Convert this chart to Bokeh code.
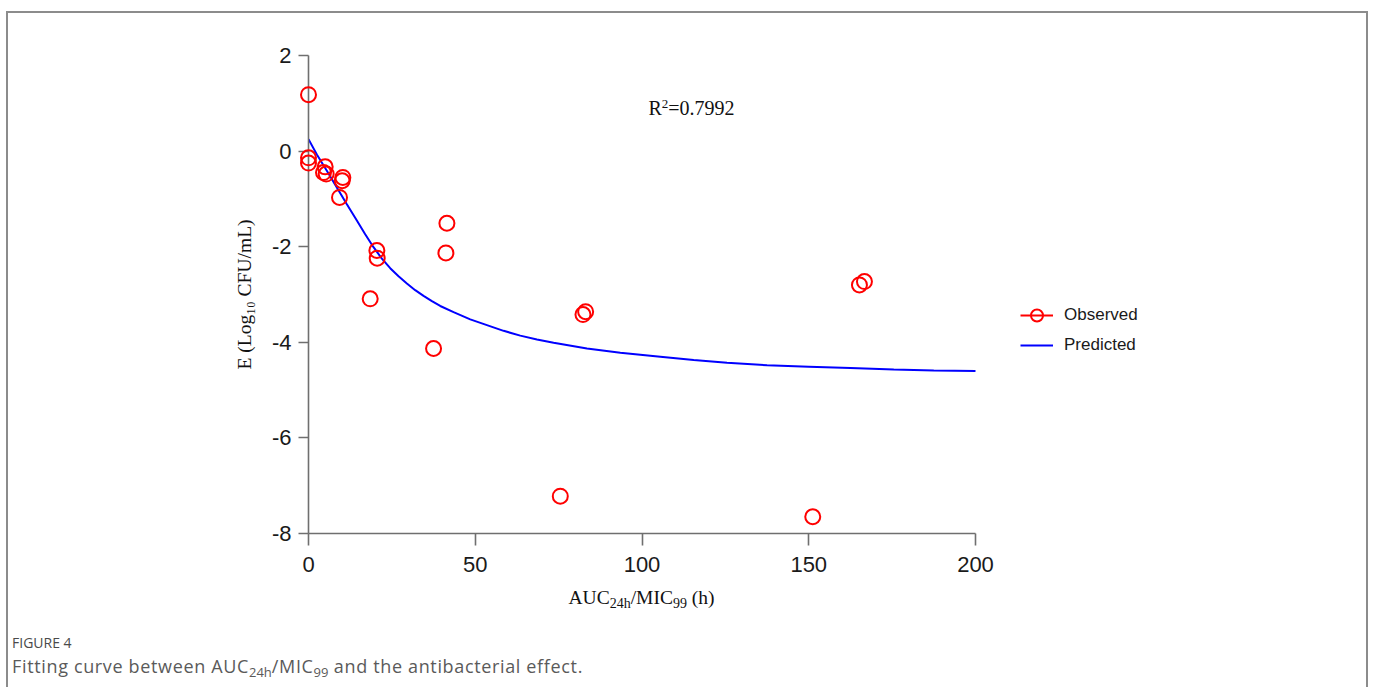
from bokeh.plotting import figure
from bokeh.models import Label, Legend, LegendItem, Div, FixedTicker, PrintfTickFormatter
from bokeh.layouts import column
from bokeh.embed import file_html
from bokeh.resources import INLINE

# ---------------- data ----------------
auc_obs = [0.0, 0.0, 0.0, 5.0, 4.5, 5.3, 10.3, 10.1, 9.3, 20.5, 20.6,
           41.5, 41.2, 18.5, 37.5, 82.3, 83.1, 75.5, 151.2, 165.2, 166.7]
e_obs = [1.18, -0.14, -0.25, -0.33, -0.45, -0.48, -0.55, -0.62, -0.97, -2.08, -2.24,
         -1.51, -2.13, -3.09, -4.13, -3.42, -3.36, -7.22, -7.65, -2.80, -2.73]

auc_fit = [0, 2.5, 5.5, 8.5, 11.5, 14.5, 17, 19.5, 22, 24.5, 27, 29.5, 32, 34.5,
           37, 39.5, 43.5, 48.5, 53.5, 58.5, 63.5, 68.5, 73.5, 83.5, 93.5, 105.5,
           115.5, 125.5, 137.5, 150, 162.5, 175.5, 187.5, 200]
e_fit = [0.25, -0.07, -0.41, -0.76, -1.11, -1.45, -1.74, -2.01, -2.25, -2.45, -2.62,
         -2.77, -2.91, -3.03, -3.14, -3.24, -3.37, -3.52, -3.64, -3.76, -3.86, -3.94,
         -4.01, -4.13, -4.22, -4.30, -4.37, -4.43, -4.48, -4.51, -4.54, -4.57, -4.59,
         -4.60]

x_ticks = [0, 50, 100, 150, 200]
y_ticks = [-8, -6, -4, -2, 0, 2]
y_title = "E (Log\u2081\u2080 CFU/mL)"
r2_value = "0.7992"
legend_labels = ["Observed", "Predicted"]

# layout: the axis spans 667 px for 0..200; the frame runs on to the right so
# that the legend sits inside it (the x axis itself is bounded to 0..200)
AXIS_PX = 667
FRAME_PX = 900
x_end = 200 * FRAME_PX / AXIS_PX

TIMES = {" ": 250, "(": 333, ")": 333, "/": 278, "=": 564, ".": 250, "R": 667}


def tw(s, size):
    return sum(TIMES.get(c, 500) for c in s) * size / 1000.0


p = figure(frame_width=FRAME_PX, frame_height=478,
           min_border_left=300, min_border_right=1358 - 300 - FRAME_PX,
           min_border_top=42, min_border_bottom=52,
           x_range=(0, x_end), y_range=(-8, 2),
           output_backend="svg", toolbar_location=None, tools="")
p.outline_line_color = None
p.xgrid.visible = False
p.ygrid.visible = False
p.background_fill_color = "white"
p.border_fill_color = "white"

for ax in (p.xaxis[0], p.yaxis[0]):
    ax.axis_line_color = "#6f6f6f"
    ax.axis_line_width = 1.6
    ax.major_tick_line_color = "#6f6f6f"
    ax.major_tick_line_width = 1.6
    ax.minor_tick_line_color = None
    ax.major_tick_in = 0
    ax.major_label_text_font = "Liberation Sans"
    ax.major_label_text_font_size = "22px"
    ax.major_label_text_color = "#1a1a1a"
    ax.formatter = PrintfTickFormatter(format="%d")
    ax.axis_label_text_font = "Liberation Serif"
    ax.axis_label_text_font_size = "19.5px"
    ax.axis_label_text_font_style = "normal"
    ax.axis_label_text_color = "#111111"
p.xaxis[0].ticker = FixedTicker(ticks=x_ticks)
p.yaxis[0].ticker = FixedTicker(ticks=y_ticks)
p.xaxis[0].bounds = (0, 200)
p.xaxis[0].major_tick_out = 12
p.yaxis[0].major_tick_out = 10
p.xaxis[0].major_label_standoff = 11
p.yaxis[0].major_label_standoff = 7
p.yaxis[0].axis_label = y_title
p.yaxis[0].axis_label_standoff = 14

fit = p.line(auc_fit, e_fit, line_color="#0000ff", line_width=2)
# legend-only proxy so that the "Observed" key shows a line through the circle
proxy = p.line(x=[float("nan")], y=[float("nan")], line_color="#ff0000", line_width=2)
obs = p.scatter(auc_obs, e_obs, marker="circle", size=15, fill_color=None,
                line_color="#ff0000", line_width=2)
obs.level = "overlay"

legend = Legend(items=[LegendItem(label=legend_labels[0], renderers=[proxy, obs]),
                       LegendItem(label=legend_labels[1], renderers=[fit])],
                location=(712, 173), orientation="vertical",
                glyph_width=33, glyph_height=30, label_height=30, spacing=0,
                label_standoff=11, padding=0, margin=0,
                border_line_color=None, background_fill_alpha=0,
                label_text_font="Liberation Sans", label_text_font_size="17px",
                label_text_color="#1a1a1a")
p.add_layout(legend)

# R^2 annotation, composed so that the 2 is a superscript
pos = 0.0
for text, size, shift in [("R", 20, 0), ("2", 13, 4.5), ("=" + r2_value, 20, 0)]:
    p.add_layout(Label(x=340 + pos, y=425.5 + shift, x_units="screen", y_units="screen",
                       text=text, text_font="Liberation Serif",
                       text_font_size=f"{size}px", text_color="#111111",
                       text_align="left", text_baseline="alphabetic"))
    pos += tw(text, size)

# x-axis title, centred under the 0..200 axis (axis centre is 334 px from the canvas left
# edge + 300 px left border)
sub = "font-size:14px;line-height:0;vertical-align:-3.5px;"
x_title_div = Div(
    text=("<div style=\"width:1267px;text-align:center;font-family:'Liberation Serif';"
          "font-size:19.5px;line-height:26px;color:#111111;\">AUC"
          f"<sub style=\"{sub}\">24h</sub>/MIC<sub style=\"{sub}\">99</sub> (h)</div>"),
    width=1358, height=46, margin=0)

caption = Div(
    text=("<div style=\"font-family:'Open Sans';color:#4a4a4a;font-size:14px;"
          "line-height:18px;\">FIGURE 4</div>"
          "<div style=\"font-family:'Open Sans';color:#5a5a5a;font-size:18px;"
          "letter-spacing:0.65px;line-height:22px;margin-top:3px;\">Fitting curve between AUC"
          "<sub style=\"font-size:13px;line-height:0;vertical-align:-4px;letter-spacing:0;\">24h</sub>/MIC"
          "<sub style=\"font-size:13px;line-height:0;vertical-align:-4px;letter-spacing:0;\">99</sub>"
          " and the antibacterial effect.</div>"),
    width=1350, height=56, margin=0, styles={"padding-left": "4px", "padding-top": "3px"})

layout = column(p, x_title_div, caption,
                styles={"border-top": "2px solid #8c8c8c",
                        "border-left": "2px solid #8c8c8c",
                        "border-right": "2px solid #8c8c8c",
                        "margin-left": "6px",
                        "margin-top": "11px"})

open("out.html", "w").write(file_html(layout, INLINE))
